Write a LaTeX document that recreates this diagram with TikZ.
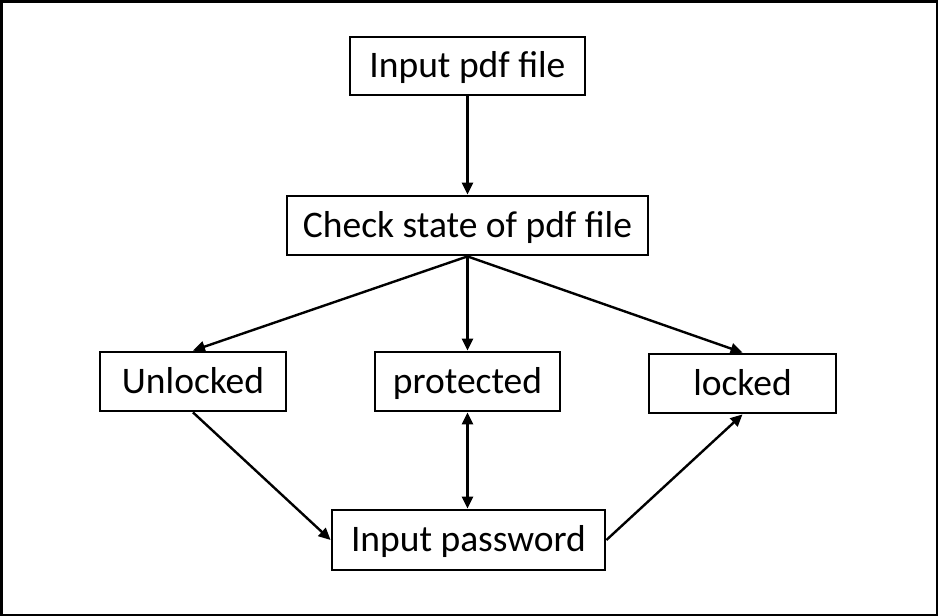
\documentclass[tikz,border=0pt]{standalone}
\usepackage{fontspec}
\setmainfont{Carlito}
\usetikzlibrary{arrows.meta}
\begin{document}
\begin{tikzpicture}[x=1pt,y=-1pt,
  box/.style={draw,line width=2.8pt,inner sep=0pt,font=\fontsize{37.5}{42}\selectfont,text height=28pt,text depth=5pt},
  conn/.style={line width=2.4pt,-{Triangle[length=12pt,width=11pt]}},
  bconn/.style={line width=2.4pt,{Triangle[length=12pt,width=11pt]}-{Triangle[length=12pt,width=11pt]}}]
\useasboundingbox (0,0) rectangle (938,616);
\draw[line width=3pt] (1,1) rectangle (937,615);
\node[box,minimum width=235pt,minimum height=58pt] (n1) at (467.5,66) {Input pdf file};
\node[box,minimum width=361pt,minimum height=59pt] (n2) at (467.5,225.5) {Check state of pdf file};
\node[box,minimum width=186pt,minimum height=59pt] (n3) at (193,381.5) {Unlocked};
\node[box,minimum width=185pt,minimum height=59pt] (n4) at (467.5,381.5) {protected};
\node[box,minimum width=187pt,minimum height=59pt] (n5) at (742.5,383.5) {locked};
\node[box,minimum width=273pt,minimum height=60pt] (n6) at (468.5,540) {Input password};
\draw[conn] (n1.south) -- (n2.north);
\draw[conn] (n2.south) -- (n3.north);
\draw[conn] (n2.south) -- (n4.north);
\draw[conn] (n2.south) -- (n5.north);
\draw[conn] (n3.south) -- (n6.west);
\draw[bconn] (n4.south) -- (n4.south |- n6.north);
\draw[conn] (n6.east) -- (n5.south);
\end{tikzpicture}
\end{document}
